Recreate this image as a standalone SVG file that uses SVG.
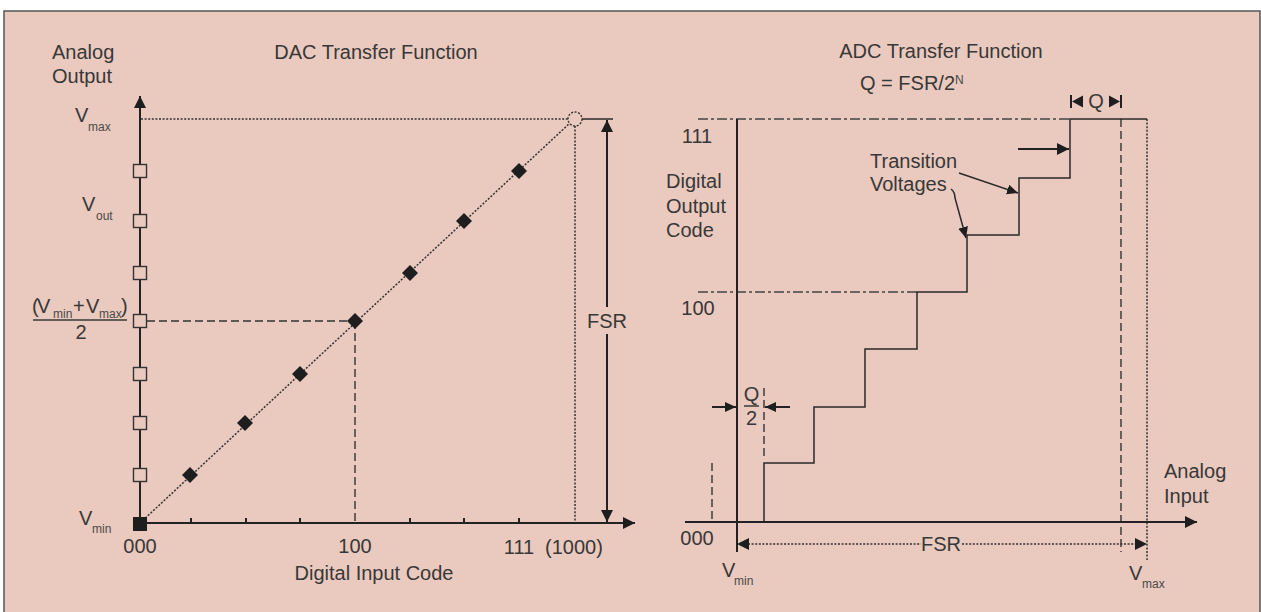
<svg xmlns="http://www.w3.org/2000/svg" width="1261" height="612" viewBox="0 0 1261 612">
<defs>
<style>
.t{font-family:"Liberation Sans",Arial,sans-serif;font-size:20px;fill:#383838}
.s{font-family:"Liberation Sans",Arial,sans-serif;font-size:12px;fill:#4a4a4a}
.ax{stroke:#222;stroke-width:2;fill:none}
.ln{stroke:#2a2a2a;stroke-width:1.5;fill:none}
.dot{stroke:#333;stroke-width:1.5;stroke-dasharray:2 1.6;fill:none}
.dash{stroke:#333;stroke-width:1.4;stroke-dasharray:8 4;fill:none}
.dd{stroke:#444;stroke-width:1.4;stroke-dasharray:10 3 3 3;fill:none}
.sq{fill:#eac9be;stroke:#333;stroke-width:1.4}
.dm{fill:#1e1e1e}
</style>
<marker id="arr" markerUnits="userSpaceOnUse" markerWidth="13" markerHeight="13" refX="12" refY="6" orient="auto">
<path d="M0,0 L12,6 L0,12 z" fill="#1e1e1e"/>
</marker>
<marker id="arrs" markerUnits="userSpaceOnUse" markerWidth="12" markerHeight="12" refX="11" refY="5" orient="auto">
<path d="M0,0 L11,5 L0,10 z" fill="#1e1e1e"/>
</marker>
</defs>
<rect x="0" y="0" width="1261" height="612" fill="#ffffff"/>
<rect id="frame" x="4" y="11" width="1256" height="610" fill="#eac9be" stroke="#555" stroke-width="1.5"/>

<!-- DAC -->
<g id="dac-title"><text class="t" x="376" y="59" text-anchor="middle">DAC Transfer Function</text></g>
<g id="dac-ylabel"><text class="t" x="52" y="59">Analog</text><text class="t" x="52" y="83">Output</text></g>
<g id="dac-xlabel"><text class="t" x="374" y="580" text-anchor="middle">Digital Input Code</text></g>
<g id="dac-vmax"><text class="t" x="75" y="122">V</text><text class="s" x="88" y="131">max</text></g>
<g id="dac-vout"><text class="t" x="82" y="211">V</text><text class="s" x="96" y="220">out</text></g>
<g id="dac-vmid">
<text class="t" x="32" y="313">(</text><text class="t" x="37" y="313">V</text><text class="s" x="53" y="318">min</text><text class="t" x="73" y="313">+</text><text class="t" x="86" y="313">V</text><text class="s" x="99" y="318">max</text><text class="t" x="121" y="313">)</text>
<line x1="33" y1="320" x2="127" y2="320" stroke="#383838" stroke-width="1.3"/>
<text class="t" x="81" y="339" text-anchor="middle">2</text>
</g>
<g id="dac-vmin"><text class="t" x="79" y="525">V</text><text class="s" x="92" y="533">min</text></g>
<g id="dac-xticklabels">
<text class="t" x="140" y="553" text-anchor="middle">000</text>
<text class="t" x="355" y="553" text-anchor="middle">100</text>
<text class="t" x="519" y="554" text-anchor="middle">111</text>
<text class="t" x="545" y="554">(1000)</text>
</g>
<g id="dac-fsr-label"><text class="t" x="607" y="328" text-anchor="middle">FSR</text></g>

<g id="connectors">
<!-- DAC guides -->
<line class="dot" x1="141" y1="119" x2="568" y2="119"/>
<line class="dot" x1="575" y1="126" x2="575" y2="522"/>
<line class="dot" x1="140" y1="523" x2="570" y2="123"/>
<line class="dash" x1="147" y1="321" x2="355" y2="321"/>
<line class="dash" x1="355" y1="321" x2="355" y2="522"/>
<line class="ln" x1="582" y1="119" x2="613" y2="119" stroke-width="2"/>
<!-- DAC axes -->
<line class="ax" x1="140" y1="524" x2="140" y2="96" marker-end="url(#arr)"/>
<line class="ax" x1="140" y1="523" x2="635" y2="523" marker-end="url(#arr)"/>
<path class="ax" d="M191,518V523 M246,518V523 M300,518V523 M410,518V523 M464,518V523 M519,518V523"/>
<!-- FSR arrows -->
<line class="ax" x1="607" y1="307" x2="607" y2="120" marker-end="url(#arr)"/>
<line class="ax" x1="607" y1="334" x2="607" y2="522" marker-end="url(#arr)"/>

<!-- ADC -->
<line class="dd" x1="698" y1="119" x2="1070" y2="119"/>
<line class="dd" x1="698" y1="292" x2="917" y2="292"/>
<line class="dash" x1="1121" y1="119" x2="1121" y2="552"/>
<line class="dot" x1="1147" y1="119" x2="1147" y2="560"/>
<line class="dash" x1="764" y1="388" x2="764" y2="458"/>
<line class="dash" x1="712" y1="463" x2="712" y2="521"/>
<path class="ln" d="M764,522V463H814V407H865V349H917V292H967V235H1019V178H1070V119H1147"/>
<line class="ax" x1="737" y1="119" x2="737" y2="552"/>
<line class="ax" x1="685" y1="522" x2="1197" y2="522" marker-end="url(#arr)"/>
<!-- Q/2 arrows -->
<line class="ax" x1="712" y1="407" x2="736" y2="407" marker-end="url(#arrs)"/>
<line class="ax" x1="790" y1="407" x2="765" y2="407" marker-end="url(#arrs)"/>
<!-- FSR span -->
<line class="dot" x1="748" y1="544" x2="921" y2="544"/>
<line class="dot" x1="962" y1="544" x2="1136" y2="544"/>
<path d="M737,544 L749,538 L749,550 z" fill="#1e1e1e"/>
<path d="M1147,544 L1135,538 L1135,550 z" fill="#1e1e1e"/>
<!-- Q top -->
<line x1="1071" y1="95" x2="1071" y2="108" stroke="#222" stroke-width="2"/>
<path d="M1072,101.5 L1083,95.5 L1083,107.5 z" fill="#1e1e1e"/>
<path d="M1120,101.5 L1109,95.5 L1109,107.5 z" fill="#1e1e1e"/>
<line x1="1121" y1="95" x2="1121" y2="108" stroke="#222" stroke-width="2"/>
<!-- transition arrows -->
<line class="ax" x1="1018" y1="149" x2="1069" y2="149" marker-end="url(#arr)"/>
<line class="ln" x1="959" y1="173" x2="1018" y2="193" stroke-width="1.3" marker-end="url(#arrs)"/>
<path class="ln" d="M951,189 Q955,192 955,198 L966,238" stroke-width="1.3" marker-end="url(#arrs)"/>
</g>

<g id="dac-squares">
<rect class="sq" x="133.5" y="164.5" width="13" height="13"/>
<rect class="sq" x="133.5" y="214.5" width="13" height="13"/>
<rect class="sq" x="133.5" y="266.5" width="13" height="13"/>
<rect class="sq" x="133.5" y="314.5" width="13" height="13"/>
<rect class="sq" x="133.5" y="367.5" width="13" height="13"/>
<rect class="sq" x="133.5" y="416.5" width="13" height="13"/>
<rect class="sq" x="133.5" y="468.5" width="13" height="13"/>
<rect x="133" y="517" width="14" height="14" fill="#1e1e1e"/>
</g>
<g id="dac-diamonds">
<path class="dm" d="M190,467 l8,8 -8,8 -8,-8z"/>
<path class="dm" d="M245,415 l8,8 -8,8 -8,-8z"/>
<path class="dm" d="M300,366 l8,8 -8,8 -8,-8z"/>
<path class="dm" d="M355,313 l8,8 -8,8 -8,-8z"/>
<path class="dm" d="M410,265 l8,8 -8,8 -8,-8z"/>
<path class="dm" d="M464,213 l8,8 -8,8 -8,-8z"/>
<path class="dm" d="M519,163 l8,8 -8,8 -8,-8z"/>
</g>
<g id="dac-endpoint"><circle cx="575" cy="119" r="7" fill="#eac9be" stroke="#333" stroke-width="1.4" stroke-dasharray="2 1.6"/></g>

<g id="adc-title"><text class="t" x="941" y="58" text-anchor="middle">ADC Transfer Function</text></g>
<g id="adc-q"><text class="t" x="860" y="90">Q = FSR/2</text><text class="s" x="955" y="84" font-size="11">N</text></g>
<g id="adc-ylabel"><text class="t" x="666" y="188">Digital</text><text class="t" x="666" y="213">Output</text><text class="t" x="666" y="237">Code</text></g>
<g id="adc-codes">
<text class="t" x="697" y="143" text-anchor="middle">111</text>
<text class="t" x="698" y="315" text-anchor="middle">100</text>
<text class="t" x="697" y="545" text-anchor="middle">000</text>
</g>
<g id="adc-q2"><text class="t" x="751.5" y="401" text-anchor="middle">Q</text><line x1="744" y1="406" x2="759" y2="406" stroke="#383838" stroke-width="1.5"/><text class="t" x="751.5" y="425" text-anchor="middle">2</text></g>
<g id="adc-qtop"><text class="t" x="1096" y="108" text-anchor="middle">Q</text></g>
<g id="adc-transition"><text class="t" x="870" y="168">Transition</text><text class="t" x="870" y="191">Voltages</text></g>
<g id="adc-xlabel"><text class="t" x="1164" y="478">Analog</text><text class="t" x="1164" y="503">Input</text></g>
<g id="adc-fsr"><text class="t" x="941" y="551" text-anchor="middle">FSR</text></g>
<g id="adc-vmin"><text class="t" x="722" y="577">V</text><text class="s" x="734" y="585">min</text></g>
<g id="adc-vmax"><text class="t" x="1129" y="580">V</text><text class="s" x="1142" y="588">max</text></g>
</svg>
